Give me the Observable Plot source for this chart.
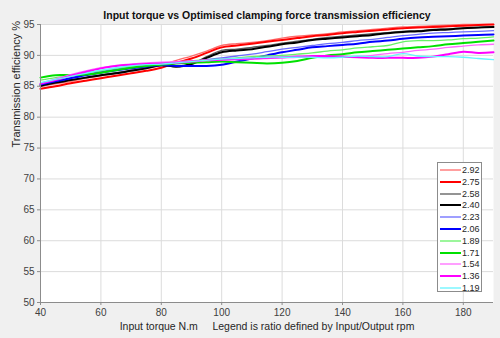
<!DOCTYPE html>
<html><head><meta charset="utf-8">
<script src="https://cdn.jsdelivr.net/npm/d3@7"></script>
<script src="https://cdn.jsdelivr.net/npm/@observablehq/plot@0.6"></script>
<style>
html,body{margin:0;padding:0;background:#f0f0f0;}
#wrap{position:relative;width:500px;height:338px;font-family:"Liberation Sans",Arial,sans-serif;}
#legend{position:absolute;left:437px;top:162px;width:45px;height:130px;background:#fff;border:1px solid #8c8c8c;box-sizing:border-box;}
.row{position:absolute;left:0;height:12px;display:flex;align-items:center;font-size:9px;color:#262626;}
.row svg{margin-left:2px;margin-right:1px;}
</style>
</head><body>
<div id="wrap"><div id="legend"></div></div>
<script>
const title = "Input torque vs Optimised clamping force transmission efficiency";
const xLabel = "Input torque N.m\u00a0\u00a0\u00a0\u00a0\u00a0Legend is ratio defined by Input/Output rpm";
const yLabel = "Transmission efficiency %";
const xTicks = [40, 60, 80, 100, 120, 140, 160, 180];
const yTicks = [50, 55, 60, 65, 70, 75, 80, 85, 90, 95];

const torque = [40,45,50,55,60,65,70,75,80,85,90,95,100,105,110,115,120,125,130,135,140,145,150,155,160,165,170,175,180,185,190];

const ratios = ["2.92","2.75","2.58","2.40","2.23","2.06","1.89","1.71","1.54","1.36","1.19"];
const colors = ["#ff6b6b","#ff0000","#5a5a5a","#000000","#6b6bff","#0000ff","#66f266","#00e000","#ff6bff","#ff00ff","#66f5ff"];
const widths = [1.3,2,1.3,2,1.3,2,1.3,2,1.3,2,1.3];

const eff292 = [85.0,85.4,85.8,86.3,86.7,87.1,87.5,87.9,88.4,89.2,89.9,90.7,91.6,91.9,92.1,92.4,92.8,93.1,93.3,93.5,93.8,94.0,94.2,94.4,94.6,94.7,94.8,94.9,95.0,95.0,95.0];
const eff275 = [84.6,85.0,85.5,85.9,86.3,86.7,87.1,87.5,88.0,88.8,89.5,90.4,91.3,91.6,91.9,92.2,92.5,92.8,93.1,93.3,93.6,93.8,94.0,94.2,94.4,94.5,94.6,94.7,94.8,94.9,95.0];
const eff258 = [85.0,85.5,86.0,86.4,86.8,87.2,87.6,88.0,88.5,88.1,88.6,89.8,90.8,91.0,91.3,91.6,92.0,92.3,92.6,92.9,93.1,93.3,93.5,93.7,93.9,94.0,94.2,94.3,94.4,94.5,94.7];
const eff240 = [85.1,85.6,86.0,86.4,86.8,87.1,87.5,87.9,88.4,88.2,88.6,89.6,90.5,90.8,91.0,91.4,91.8,92.1,92.5,92.7,92.9,93.1,93.3,93.6,93.8,93.9,94.1,94.2,94.4,94.5,94.6];
const eff223 = [85.4,85.9,86.4,86.9,87.4,87.8,88.1,88.4,88.6,88.8,89.0,89.3,89.6,89.9,90.2,90.6,91.0,91.3,91.6,91.9,92.1,92.4,92.6,92.9,93.2,93.4,93.6,93.7,93.8,93.9,94.0];
const eff206 = [85.3,85.8,86.3,86.8,87.2,87.6,87.9,88.2,88.4,88.3,88.3,88.3,88.5,89.0,89.5,90.0,90.5,90.9,91.3,91.5,91.7,91.9,92.2,92.4,92.7,92.9,93.0,93.1,93.2,93.3,93.4];
const eff189 = [86.0,86.4,86.7,87.1,87.5,87.9,88.2,88.5,88.7,88.9,89.1,89.3,89.4,89.6,89.8,89.9,90.0,90.2,90.4,90.7,90.9,91.2,91.4,91.6,92.2,92.4,92.4,92.5,92.7,92.8,93.0];
const eff171 = [86.4,86.8,86.8,86.9,87.2,87.6,88.0,88.3,88.5,88.7,88.8,88.9,89.0,88.9,88.8,88.7,88.8,89.1,89.6,90.0,90.2,90.5,90.7,90.9,91.1,91.3,91.5,91.8,92.0,92.2,92.4];
const eff154 = [85.5,86.2,86.9,87.5,88.0,88.4,88.6,88.8,88.9,89.0,89.1,89.2,89.3,89.3,89.4,89.5,89.6,89.7,89.7,89.7,89.7,89.8,90.0,90.3,90.5,90.8,91.0,91.3,91.5,91.7,91.8];
const eff136 = [85.4,86.0,86.7,87.3,87.9,88.3,88.5,88.6,88.7,88.8,89.0,89.2,89.3,89.4,89.5,89.6,89.7,89.8,89.9,89.9,89.8,89.7,89.6,89.6,89.6,89.6,89.8,90.2,90.6,90.4,90.5];
const eff119 = [85.6,86.1,86.6,87.1,87.6,88.0,88.3,88.5,88.6,88.8,89.0,89.2,89.4,89.5,89.6,89.7,89.7,89.7,89.7,89.6,89.7,89.9,89.8,89.8,90.3,89.9,89.8,89.8,89.7,89.5,89.3];

const series = [eff292,eff275,eff258,eff240,eff223,eff206,eff189,eff171,eff154,eff136,eff119];

const marks = [
  Plot.frame({fill: "#ffffff", stroke: null}),
  Plot.gridX(xTicks, {stroke: "#dcdcdc", strokeOpacity: 1}),
  Plot.gridY(yTicks, {stroke: "#dcdcdc", strokeOpacity: 1}),
];
series.forEach((vals, i) => {
  const rows = torque.map((t, j) => ({t, v: vals[j]}));
  marks.push(Plot.line(rows, {x: "t", y: "v", stroke: colors[i], strokeWidth: widths[i], curve: "catmull-rom"}));
});
marks.push(
  Plot.ruleX([40], {stroke: "#8c8c8c"}),
  Plot.ruleY([50], {stroke: "#8c8c8c"}),
  Plot.axisX({ticks: xTicks, tickSize: 3, tickPadding: 3, label: null, fontSize: 10, stroke: "#8c8c8c"}),
  Plot.axisY({ticks: yTicks, tickSize: 3, tickPadding: 3, label: null, fontSize: 10, stroke: "#8c8c8c"}),
  Plot.text([title], {frameAnchor: "top", dy: -9, lineAnchor: "middle", fontWeight: "bold", fontSize: 10.5, fill: "#111"}),
  Plot.text([xLabel], {frameAnchor: "bottom", dy: 24, lineAnchor: "middle", fontSize: 10.5, fill: "#262626"}),
  Plot.text([yLabel], {frameAnchor: "left", rotate: -90, dx: -24.5, dy: -16, lineAnchor: "middle", fontSize: 11, fill: "#262626"})
);

const chart = Plot.plot({
  width: 500, height: 338,
  marginLeft: 40, marginRight: 7, marginTop: 24, marginBottom: 36,
  x: {domain: [40, 190]},
  y: {domain: [50, 95]},
  style: {background: "transparent", fontFamily: "Liberation Sans, Arial, sans-serif", color: "#404040", overflow: "visible"},
  marks
});
chart.style.position = "absolute";
chart.style.left = "0px";
chart.style.top = "0px";
const wrap = document.getElementById("wrap");
wrap.insertBefore(chart, wrap.firstChild);

const legend = document.getElementById("legend");
ratios.forEach((r, i) => {
  const row = document.createElement("div");
  row.className = "row";
  row.style.top = (1 + i * 11.8) + "px";
  row.innerHTML = `<svg width="21" height="4"><line x1="0" x2="21" y1="2" y2="2" stroke="${colors[i]}" stroke-width="${widths[i]}"/></svg><span>${r}</span>`;
  legend.appendChild(row);
});
</script>
</body></html>
